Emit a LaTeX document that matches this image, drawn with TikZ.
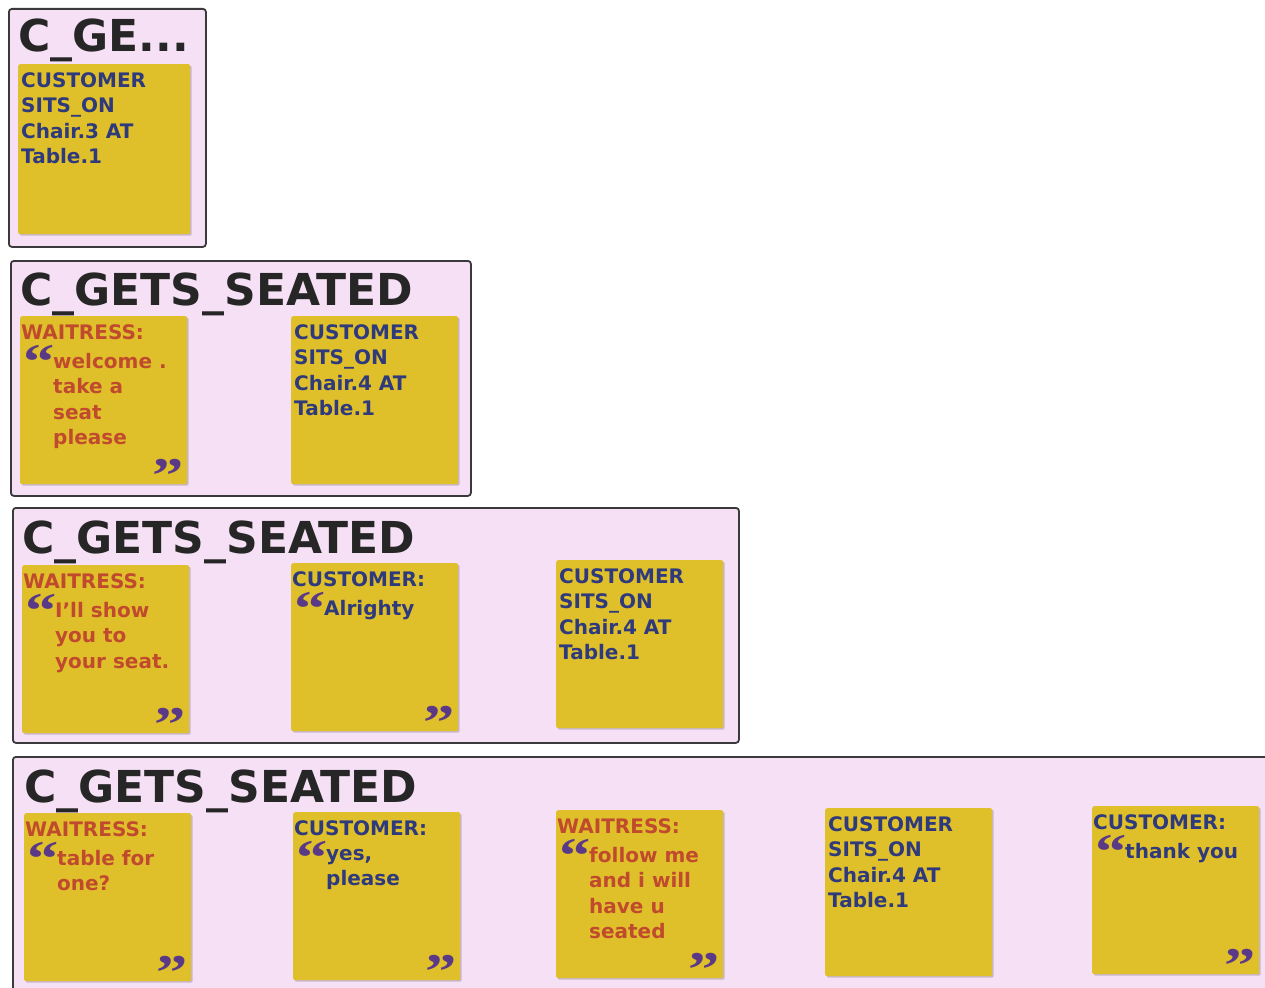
\documentclass[tikz,border=0pt]{standalone}
\usepackage{fontspec}
\usepackage{graphicx}
\setmainfont{DejaVu Sans}
\newfontfamily\quotefont{Liberation Serif}
\usetikzlibrary{shadows}
\definecolor{panelpink}{HTML}{F6E0F6}
\definecolor{paneledge}{HTML}{3A3A3A}
\definecolor{stickyyellow}{HTML}{E0C02A}
\definecolor{titledark}{HTML}{262626}
\definecolor{speechred}{HTML}{C04A2E}
\definecolor{speechblue}{HTML}{2E3A7C}
\definecolor{quotepurple}{HTML}{5A3A86}

% a quote mark cut down to its ink
\newcommand{\qglyph}[1]{\scalebox{1.25}[1]{\raisebox{-0.356em}[0.335em][0pt]{#1}}}
% sticky note with a spoken line: name, top left, speaker, colour, words
\newcommand{\spokennote}[5]{%
  \node[sticky] (#1) at (#2) {};
  \node[speaker, text=#4] (#1-who) at ([shift={(1,23)}]#1.north west) {#3};
  \node[openq] (#1-oq) at ([shift={(3,45)}]#1.north west) {\qglyph{“}};
  \node[speech, text=#4] (#1-say) at ([shift={(33,37)}]#1.north west) {#5};
  \node[closeq] (#1-cq) at ([shift={(-3,-10)}]#1.south east) {\qglyph{”}};
}
% sticky note with a plain fact
\newcommand{\factnote}[3][]{%
  \node[sticky,#1] (#2) at (#3) {};
}

\begin{document}
\begin{tikzpicture}[x=1pt, y=-1pt,
  panel/.style={draw=paneledge, line width=1.8pt, fill=panelpink, rounded corners=3pt, anchor=north west, inner sep=0pt},
  title/.style={anchor=base west, inner sep=0pt, text=titledark, font=\fontsize{44}{44}\selectfont\bfseries},
  sticky/.style={fill=stickyyellow, rounded corners=2pt, anchor=north west, inner sep=0pt, minimum width=167, minimum height=168,
    drop shadow={shadow xshift=1.5pt, shadow yshift=-1.5pt, fill=black, opacity=0.18}},
  speaker/.style={anchor=base west, inner sep=0pt, font=\fontsize{20}{25.5}\selectfont\bfseries},
  speech/.style={anchor=north west, inner sep=0pt, align=left, font=\fontsize{20}{25.5}\selectfont\bfseries},
  fact/.style={speech, text=speechblue},
  openq/.style={anchor=south west, inner sep=0pt, text=quotepurple, font=\quotefont\fontsize{50}{50}\selectfont\bfseries},
  closeq/.style={openq, anchor=south east}
]
  \useasboundingbox (0,0) rectangle (1265,987);
  \clip (0,0) rectangle (1265,987);
  \fill[white] (0,0) rectangle (1265,987);

  % first scene
  \node[panel, minimum width=197, minimum height=238] (seat1) at (8,8) {};
  \node[title] (seat1-title) at (18,52) {C\_GE...};
  \factnote[minimum width=172, minimum height=170]{n11}{18,64}
  \node[fact] (n11-txt) at ([shift={(3,8)}]n11.north west) {CUSTOMER\\SITS\_ON\\Chair.3 AT\\Table.1};

  % second scene
  \node[panel, minimum width=460, minimum height=235] (seat2) at (10,260) {};
  \node[title] (seat2-title) at (20,305) {C\_GETS\_SEATED};
  \spokennote{n21}{20,316}{WAITRESS:}{speechred}{welcome .\\take a\\seat\\please}
  \factnote{n22}{291,316}
  \node[fact] (n22-txt) at ([shift={(3,8)}]n22.north west) {CUSTOMER\\SITS\_ON\\Chair.4 AT\\Table.1};

  % third scene
  \node[panel, minimum width=726, minimum height=235] (seat3) at (12,507) {};
  \node[title] (seat3-title) at (22,553) {C\_GETS\_SEATED};
  \spokennote{n31}{22,565}{WAITRESS:}{speechred}{I'll show\\you to\\your seat.}
  \spokennote{n32}{291,563}{CUSTOMER:}{speechblue}{Alrighty}
  \factnote{n33}{556,560}
  \node[fact] (n33-txt) at ([shift={(3,8)}]n33.north west) {CUSTOMER\\SITS\_ON\\Chair.4 AT\\Table.1};

  % fourth scene
  \node[panel, minimum width=1270, minimum height=245] (seat4) at (12,756) {};
  \node[title] (seat4-title) at (24,802) {C\_GETS\_SEATED};
  \spokennote{n41}{24,813}{WAITRESS:}{speechred}{table for\\one?}
  \spokennote{n42}{293,812}{CUSTOMER:}{speechblue}{yes,\\please}
  \spokennote{n43}{556,810}{WAITRESS:}{speechred}{follow me\\and i will\\have u\\seated}
  \factnote{n44}{825,808}
  \node[fact] (n44-txt) at ([shift={(3,8)}]n44.north west) {CUSTOMER\\SITS\_ON\\Chair.4 AT\\Table.1};
  \spokennote{n45}{1092,806}{CUSTOMER:}{speechblue}{thank you}
\end{tikzpicture}
\end{document}
